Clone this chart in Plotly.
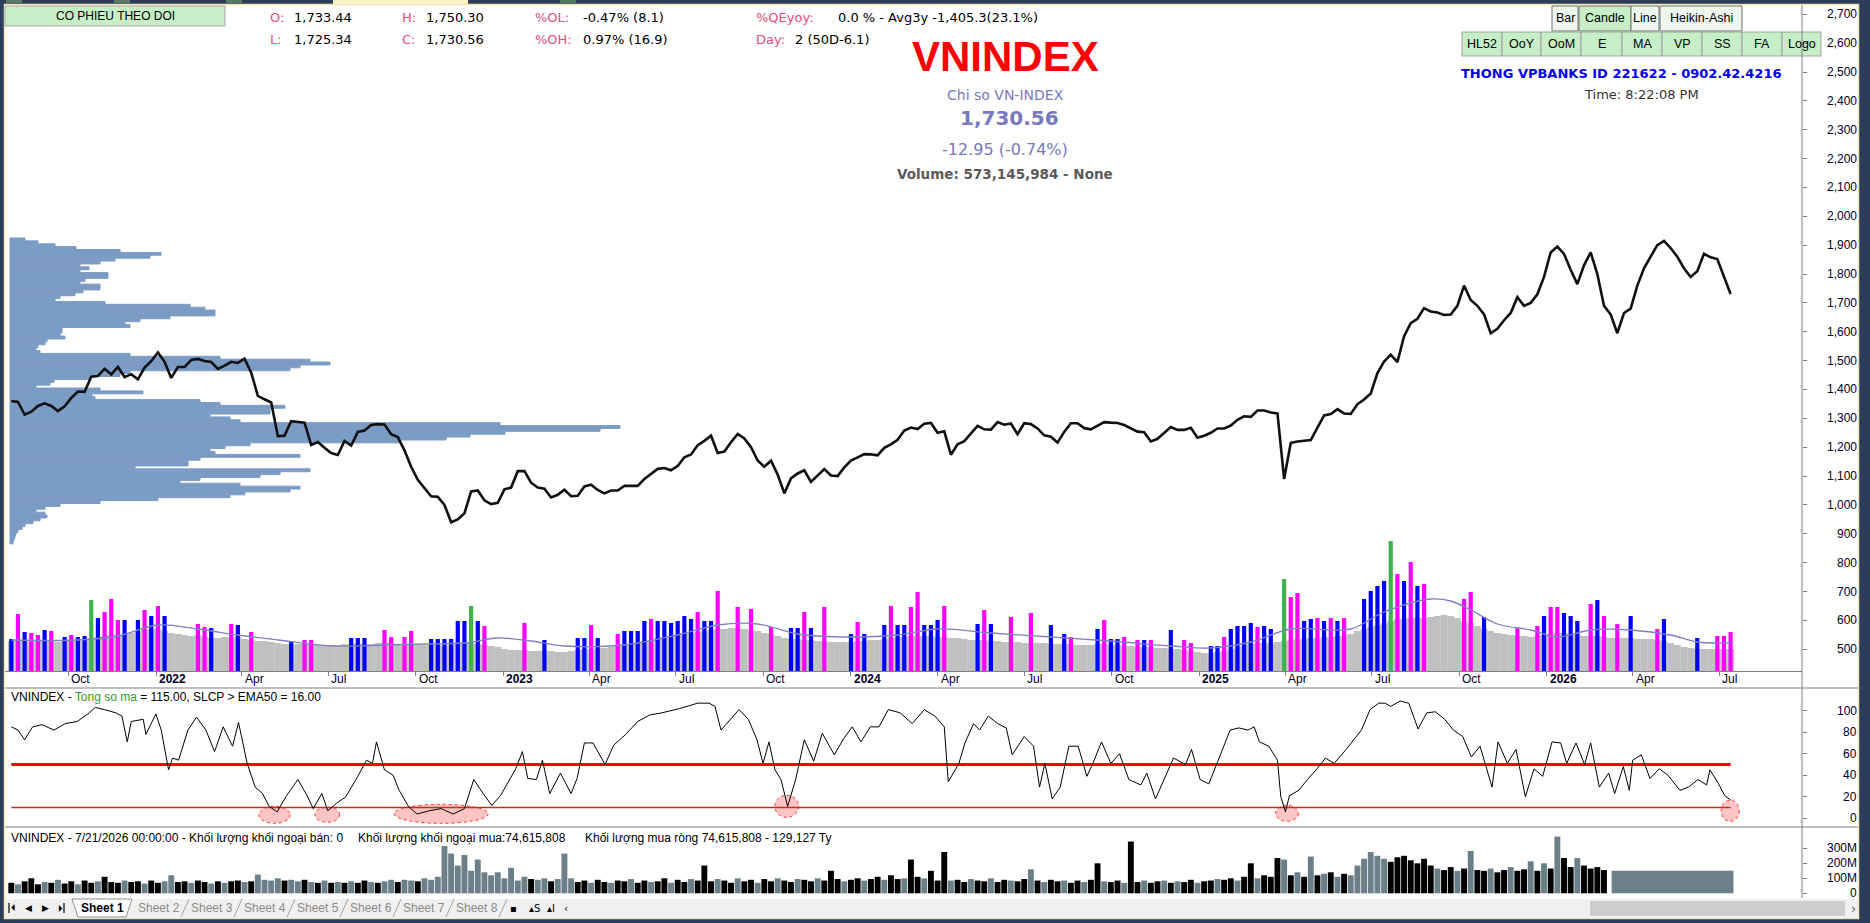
import numpy as np
import pandas as pd
import plotly.graph_objects as go

W, H = 1870, 923

# ---------------- data ----------------
week_start = "2021-08-02"   # one value per week (Monday)

close = [
    # 2021
    1360, 1357, 1313, 1323, 1343, 1352, 1343, 1325, 1342, 1371, 1393, 1392, 1444, 1447, 1472, 1452,
    1478, 1443, 1453, 1435, 1476, 1498,
    # 2022
    1528, 1496, 1440, 1478, 1478, 1502, 1506, 1499, 1495, 1471, 1483, 1496, 1492, 1507, 1458, 1378,
    1366, 1355, 1238, 1240, 1290, 1287, 1285, 1208, 1218, 1198, 1180, 1173, 1222, 1206, 1253, 1258,
    1277, 1280, 1279, 1245, 1235, 1189, 1132, 1087, 1060, 1030, 1028, 1000, 940, 950, 971, 1047,
    1050, 1016, 1003, 1007,
    # 2023
    1054, 1060, 1117, 1117, 1077, 1060, 1056, 1026, 1035, 1053, 1030, 1032, 1064, 1070, 1052, 1040,
    1050, 1050, 1066, 1067, 1066, 1090, 1109, 1125, 1128, 1120, 1135, 1165, 1175, 1207, 1222, 1240,
    1180, 1185, 1217, 1246, 1230, 1200, 1154, 1132, 1153, 1105, 1040, 1092, 1109, 1120, 1080, 1102,
    1124, 1102, 1100, 1130,
    # 2024
    1154, 1165, 1176, 1175, 1172, 1198, 1210, 1226, 1258, 1268, 1263, 1281, 1284, 1250, 1255, 1174,
    1210, 1221, 1248, 1274, 1262, 1261, 1287, 1278, 1282, 1245, 1283, 1280, 1265, 1241, 1236, 1216,
    1253, 1283, 1283, 1266, 1262, 1275, 1287, 1285, 1284, 1277, 1265, 1254, 1252, 1220, 1229, 1250,
    1270, 1260, 1260, 1267, 1233,
    # 2025
    1240, 1250, 1265, 1265, 1275, 1295, 1307, 1305, 1327, 1327, 1320, 1317, 1090, 1215, 1220, 1223,
    1225, 1268, 1310, 1315, 1332, 1317, 1315, 1349, 1365, 1386, 1457, 1497, 1521, 1495, 1585, 1630,
    1645, 1682, 1670, 1667, 1658, 1660, 1690, 1760, 1710, 1690, 1660, 1595, 1610, 1640, 1665, 1720,
    1690, 1700, 1730, 1790,
    # 2026
    1875, 1895, 1870, 1815, 1765, 1830, 1875, 1800, 1690, 1660, 1595, 1665, 1680, 1760, 1820, 1860,
    1900, 1915, 1890, 1860, 1820, 1790, 1810, 1870, 1858, 1852, 1790, 1731,
]

# weekly volume (million shares): grey base level and coloured high-volume days
vol_base = [
    600, 620, 600, 580, 620, 600, 600, 580, 600, 620, 600, 620,
    660, 680, 700, 720, 720, 740, 760, 800, 820, 840, 840, 800,
    760, 740, 720, 700, 720, 680, 660, 660, 680, 660, 680, 640,
    620, 600, 600, 580, 560, 540, 540, 540, 540, 540, 520, 520,
    520, 520, 540, 540, 560, 540, 540, 560, 560, 560, 540, 540,
    540, 520, 520, 520, 520, 500, 520, 540, 560, 560, 540, 520,
    500, 480, 440, 420, 420, 420, 400, 400, 400, 400, 380, 380,
    400, 420, 440, 440, 460, 460, 480, 500, 520, 540, 560, 600,
    620, 660, 680, 700, 720, 740, 760, 780, 800, 820, 840, 840,
    860, 860, 840, 820, 800, 760, 740, 700, 660, 640, 640, 620,
    620, 600, 600, 580, 580, 580, 580, 600, 600, 620, 620, 640,
    660, 680, 680, 700, 700, 700, 700, 680, 680, 660, 660, 640,
    620, 620, 620, 600, 600, 580, 580, 580, 560, 560, 560, 560,
    540, 540, 540, 540, 520, 520, 520, 540, 540, 520, 520, 500,
    500, 480, 480, 480, 460, 460, 440, 440, 420, 400, 380, 360,
    360, 380, 400, 440, 480, 520, 540, 560, 560, 560, 580, 600,
    620, 640, 640, 660, 660, 680, 680, 700, 700, 740, 800, 840,
    880, 920, 960, 1000, 1040, 1040, 1060, 1060, 1060, 1080, 1100, 1120,
    1100, 1060, 1000, 960, 900, 840, 800, 760, 740, 720, 700, 700,
    680, 700, 720, 740, 760, 760, 740, 720, 700, 700, 700, 680,
    660, 660, 660, 660, 640, 640, 640, 620, 600, 560, 520, 480,
    460, 440, 440, 440, 440, 440, 440,
]
vol_spike = [
    640, 1140, 780, 760, 720, 820, 800, 0, 680, 720,
    680, 700, 1420, 1060, 1180, 1440, 1020, 1020, 0, 1020,
    1220, 1100, 1300, 1100, 0, 0, 0, 0, 940, 880,
    860, 0, 0, 940, 920, 0, 780, 0, 0, 0,
    0, 0, 600, 0, 620, 620, 0, 0, 0, 0,
    0, 660, 660, 660, 0, 0, 820, 680, 0, 680,
    800, 0, 0, 640, 640, 640, 640, 1000, 1000, 1300,
    1000, 900, 0, 0, 0, 0, 0, 960, 0, 0,
    620, 0, 0, 0, 0, 660, 660, 920, 660, 0,
    0, 740, 800, 800, 800, 1000, 1040, 1000, 1000, 960,
    1000, 1100, 1040, 1180, 1000, 1000, 1600, 0, 0, 1280,
    0, 1240, 0, 0, 880, 0, 0, 860, 860, 1180,
    860, 0, 1280, 0, 0, 0, 740, 980, 740, 0,
    0, 920, 1300, 920, 920, 1280, 1580, 920, 920, 1020,
    1300, 0, 0, 0, 0, 940, 1220, 940, 0, 0,
    1080, 0, 0, 1160, 0, 0, 920, 0, 740, 680,
    0, 0, 0, 840, 1020, 640, 640, 680, 0, 620,
    620, 620, 0, 0, 820, 0, 620, 560, 0, 0,
    500, 500, 680, 840, 900, 900, 960, 880, 900, 840,
    0, 1840, 1480, 1560, 1000, 1040, 1060, 1000, 1060, 1000,
    1060, 0, 0, 1440, 1600, 1700, 1800, 2600, 1940, 1800,
    2180, 1700, 1740, 0, 0, 0, 0, 0, 1440, 1580,
    0, 1080, 0, 0, 0, 0, 860, 0, 0, 900,
    1100, 1280, 1280, 1160, 1100, 1000, 0, 1340, 1420, 1100,
    0, 940, 0, 1100, 0, 0, 0, 840, 1040, 0,
    0, 0, 0, 660, 0, 0, 700, 700, 780,
]
spike_color = ("bmbmmbm.bm" "bbGbmmmb.b" "mbmb....mm" "b..mb.m..." "..b.mm...."
               ".bbb..mm.m" "m..bbbbbbG" "bm.....m.." "b....bbmb." ".mbbbbmbbb"
               "bbbmbbm..m" ".m..m..bbm" "b.m...bmb." ".bmbbmmbbb" "m....bmb.."
               "m..m..b.bm" "...bmbbm.m" "bm..b.mm.." "bbmbbbbmbb" ".Gmmbbmbmb"
               "m..bbbbGmb" "mbm.....mm" ".b....m..m" "bmmbbb.mbm" ".m.b...mb."
               "...b..mmm")

# volume moving average: [week index, million shares]
vol_ma_points = [
    [0, 620], [10, 620], [16, 700], [22, 920], [28, 840], [34, 720], [40, 620], [48, 500],
    [56, 520], [62, 540], [68, 560], [73, 660], [78, 600], [83, 500], [92, 520], [100, 720],
    [106, 920], [112, 940], [118, 740], [126, 680], [133, 720], [139, 840], [147, 760],
    [156, 680], [165, 600], [174, 500], [180, 460], [186, 580], [192, 840], [201, 840],
    [206, 1180], [213, 1440], [216, 1400], [219, 1220], [223, 940], [228, 820], [232, 680],
    [237, 820], [243, 820], [249, 720], [253, 580], [258, 560],
]

# "Tong so ma" indicator: [week index, value]
ind_points = [
    [0, 85], [1, 82], [2, 73], [3.2, 85], [4.6, 87], [6.4, 82], [8.1, 88], [9.9, 90], [11.7, 98],
    [12.6, 103], [14, 101], [15.7, 98], [16.6, 95], [17.4, 71], [18, 90], [19.8, 92], [20.2, 78],
    [21.7, 97], [22.5, 82], [23.6, 45], [24.2, 56], [25.1, 54], [26.5, 82], [27.8, 94], [29.2, 82],
    [30.5, 62], [31.8, 85], [33.2, 67], [34.1, 89], [35.4, 51], [36.6, 29], [37.7, 23], [38.7, 11],
    [39.9, 6], [41.2, 20], [43, 36], [44.4, 21], [45.3, 9], [46.6, 23], [47.5, 7], [48.8, 14],
    [50.2, 20], [52, 39], [53.3, 54], [54.2, 51], [54.8, 71], [56, 45], [57.3, 40], [58.2, 26],
    [59.6, 11], [60.9, 4], [62.7, 7], [64.5, 9], [66.3, 4], [68, 9], [69.4, 36], [70.8, 23],
    [72.1, 12], [73.4, 21], [74.8, 36], [75.7, 46], [76.7, 62], [77.5, 37], [78.8, 36], [79.7, 54],
    [80.8, 23], [82.4, 42], [84, 23], [84.9, 37], [86, 70], [87.3, 70], [89.1, 50], [90.4, 68],
    [92.2, 78], [94, 90], [95.8, 96], [97.6, 98], [100.3, 102], [103, 107], [104.7, 107],
    [105.6, 104], [106.5, 82], [107.9, 92], [109.2, 101], [110.6, 92], [111.9, 73], [112.8, 51],
    [113.7, 71], [114.6, 45], [115.5, 36], [116.5, 11], [117.7, 36], [119, 73], [120.4, 53],
    [121.7, 79], [123.5, 59], [124.9, 74], [126.2, 85], [127.5, 71], [128.9, 85], [130.2, 85],
    [131.6, 101], [133.4, 98], [135.2, 88], [137, 101], [138.6, 95], [140, 85], [140.6, 34],
    [142.2, 51], [143.1, 70], [144.4, 88], [145.3, 82], [146.6, 95], [148, 88], [149.3, 84],
    [150.2, 59], [152, 76], [153.4, 67], [154.3, 29], [155.1, 51], [156.2, 18], [157.4, 29],
    [158.7, 67], [160.1, 67], [161.4, 39], [162.3, 51], [163.6, 71], [165, 51], [166.3, 60],
    [167.7, 36], [169.5, 31], [170.4, 42], [171.7, 18], [173, 36], [174.4, 56], [176.2, 50],
    [177.1, 64], [178.4, 36], [179.7, 32], [181.5, 60], [182.9, 82], [184.2, 84], [185.6, 82],
    [186.5, 85], [187.3, 71], [188.7, 67], [190, 54], [190.5, 20], [191.2, 6], [191.8, 21],
    [193.2, 26], [194.5, 36], [195.8, 45], [197.2, 56], [198.5, 51], [200.3, 64], [201.2, 71],
    [202.6, 82], [203.9, 101], [205.2, 107], [206.1, 107], [207, 104], [208.4, 109], [209.7, 107],
    [211.1, 83], [212.4, 98], [213.7, 99], [215.1, 92], [216.4, 82], [217.8, 76], [219.1, 57],
    [220.4, 67], [222.2, 29], [223.1, 71], [224.5, 51], [225.8, 64], [227.2, 20], [228.5, 46],
    [229.8, 39], [231.2, 71], [232.5, 70], [233.4, 51], [234.8, 70], [236.1, 50], [237, 70],
    [238.3, 29], [239.7, 42], [240.6, 23], [241.9, 48], [242.8, 26], [243.3, 54], [244.6, 59],
    [245.9, 37], [247.3, 46], [248.6, 40], [250.4, 26], [251.7, 29], [253.1, 36], [254.4, 31],
    [254.9, 45], [256.2, 32], [257.1, 21], [258, 17],
]
ind_levels = [50, 10]
# oversold zones circled on the indicator: start, end, low, high
low_zones = [
    ["2022-04-19", "2022-05-22", -4.7, 11.2],
    ["2022-06-17", "2022-07-13", -3.7, 10.3],
    ["2022-09-08", "2022-12-16", -4.7, 13.0],
    ["2023-10-13", "2023-11-07", 0.9, 21.4],
    ["2025-03-22", "2025-04-15", -2.8, 12.1],
    ["2026-07-03", "2026-07-22", -2.8, 16.8],
]

# foreign trading volume (million shares), weekly
foreign = [
    70, 60, 80, 100, 60, 75, 70, 90, 65, 80,
    60, 85, 70, 80, 110, 75, 70, 85, 75, 80,
    65, 85, 70, 80, 120, 75, 80, 70, 85, 75,
    65, 80, 70, 80, 85, 75, 80, 125, 90, 85,
    100, 85, 90, 80, 90, 75, 70, 85, 70, 75,
    70, 80, 70, 85, 75, 70, 80, 90, 75, 90,
    85, 80, 100, 90, 110, 315, 265, 185, 255, 150,
    225, 140, 120, 140, 100, 170, 85, 110, 95, 90,
    100, 80, 95, 265, 100, 75, 85, 70, 90, 75,
    70, 85, 80, 95, 70, 85, 75, 80, 100, 70,
    90, 75, 95, 85, 185, 80, 95, 85, 70, 100,
    80, 90, 70, 95, 80, 100, 85, 75, 95, 90,
    80, 100, 85, 150, 95, 80, 90, 100, 85, 95,
    110, 90, 120, 95, 100, 225, 110, 100, 150, 85,
    275, 85, 90, 75, 95, 85, 80, 100, 75, 90,
    85, 80, 95, 160, 85, 75, 90, 80, 85, 70,
    85, 75, 90, 200, 80, 75, 85, 70, 345, 75,
    85, 70, 80, 85, 70, 80, 75, 90, 70, 80,
    85, 95, 90, 100, 85, 110, 200, 100, 120, 110,
    235, 225, 120, 140, 110, 245, 120, 130, 140, 110,
    130, 120, 185, 230, 275, 250, 230, 210, 240, 250,
    220, 200, 230, 185, 165, 155, 175, 150, 165, 282,
    155, 150, 165, 140, 155, 175, 150, 160, 213, 150,
    200, 165, 378, 235, 175, 235, 185, 165, 175, 155,
]
foreign_color = ("kskkkskskk" "skkskkkskk" "skksskkskk" "skskksksss" "skssksksks"
                 "kskkskssks" "skssssssss" "ssssssssks" "skssskkskk" "skkskkskks"
                 "kkskkkskks" "kkskkskksk" "kskkkskksk" "kskkskkskk" "kskkskkskk"
                 "skkskskksk" "kskkskkskk" "skkskskksk" "kskkskkskk" "ksksksksks"
                 "ksssssskkk" "kkkkskksks" "kkskkskksk" "skskkskkkk")
foreign_block = ["2026-03-10", "2026-07-16", 150]

# volume profile (left side): price bins and relative traded volume
profile_price = list(range(1920, 860, -10))
profile_vol = [
    15, 28, 45, 66, 110, 151, 140, 105, 90, 70,
    79, 70, 98, 98, 75, 70, 90, 90, 73, 65,
    50, 45, 95, 180, 195, 205, 205, 160, 130, 115,
    120, 52, 52, 50, 55, 37, 35, 28, 26, 30,
    120, 210, 300, 320, 290, 280, 120, 110, 80, 44,
    40, 26, 90, 133, 82, 85, 190, 210, 275, 260,
    260, 200, 220, 230, 490, 610, 590, 495, 460, 436,
    390, 240, 215, 200, 205, 290, 190, 178, 178, 125,
    300, 270, 250, 190, 170, 230, 290, 280, 235, 220,
    148, 90, 50, 35, 26, 35, 37, 30, 23, 15,
    12, 8, 6, 5, 4, 3,
]

price_ticks = list(range(500, 2800, 100))
ind_ticks = [0, 20, 40, 60, 80, 100]
foreign_ticks = [0, 100, 200, 300]
foreign_tick_text = ["0", "100M", "200M", "300M"]

# ---------------- helpers ----------------
def PX(x):
    return x / W

def PY(y):
    return 1 - y / H

shapes, anns = [], []

def text(t, x, y, size=13, color="#000000", family="DejaVu Sans", anchor="left", bold=False):
    if bold:
        t = "<b>" + t + "</b>"
    anns.append(dict(text=t, x=PX(x), y=PY(y), xref="paper", yref="paper", xanchor=anchor,
                     yanchor="middle", showarrow=False,
                     font=dict(size=size, color=color, family=family)))

def rect(x0, y0, x1, y1, fill, line=None, lw=1.0, layer="below"):
    shapes.append(dict(type="rect", xref="paper", yref="paper", x0=PX(x0), x1=PX(x1),
                       y0=PY(y1), y1=PY(y0), fillcolor=fill, layer=layer,
                       line=dict(color=line if line else fill, width=lw if line else 0)))

def hline(x0, x1, y, color="#808080", w=1.0):
    shapes.append(dict(type="line", xref="paper", yref="paper", x0=PX(x0), x1=PX(x1),
                       y0=PY(y), y1=PY(y), line=dict(color=color, width=w), layer="above"))

def vline(x, y0, y1, color="#808080", w=1.0):
    shapes.append(dict(type="line", xref="paper", yref="paper", x0=PX(x), x1=PX(x),
                       y0=PY(y0), y1=PY(y1), line=dict(color=color, width=w), layer="above"))

# ---------------- geometry ----------------
t0 = pd.Timestamp(week_start)
dates = pd.date_range(week_start, periods=len(close), freq="7D")
DAY_MS = 86400000
px_per_day = 0.952
anchor_date = pd.Timestamp("2022-01-01")
anchor_px = 156.0
x_left_px, x_right_px = 5.0, 1802.0
date_left = anchor_date + pd.Timedelta(days=(x_left_px - anchor_px) / px_per_day)
date_right = anchor_date + pd.Timedelta(days=(x_right_px - anchor_px) / px_per_day)
xdom = [PX(x_left_px), PX(x_right_px)]

# price panel: 2700 at y=14.3 px, 28.86 px per 100
p_top_px, p_bot_px = 5.0, 671.0
def price_at(ypx):
    return 2700 - (ypx - 14.3) / 0.2886
price_range = [price_at(p_bot_px), price_at(p_top_px)]
vol_px = 20.0  # million shares per pixel
vol_range = [0, (p_bot_px - p_top_px) * vol_px]

# indicator panel: 100 at 710.7, 0 at 818.3
i_top_px, i_bot_px = 688.0, 827.0
ipp = (818.3 - 710.7) / 100
ind_range = [-(i_bot_px - 818.3) / ipp, (818.3 - i_top_px) / ipp]

# foreign panel: 0 at 893.3, 15 px per 100M
f_top_px, f_bot_px = 827.0, 898.0
fpp = 0.15
f_range = [-(f_bot_px - 893.3) / fpp, (893.3 - f_top_px) / fpp]

# ---------------- traces ----------------
fig = go.Figure()

# volume profile
PROF = "#7b9cc4"
fig.add_trace(go.Bar(x=profile_vol, y=profile_price, orientation="h", width=10,
                     marker=dict(color=PROF, line=dict(color=PROF, width=1)),
                     xaxis="x", yaxis="y", hoverinfo="skip"))

# volume bars
n = min(len(dates), len(vol_base))
fig.add_trace(go.Bar(x=dates[:n], y=vol_base[:n], width=7.2 * DAY_MS,
                     marker=dict(color="#c0c0c0", line=dict(width=0)),
                     xaxis="x2", yaxis="y3", hoverinfo="skip"))
cmap = {"b": "#0000ff", "m": "#ff00ff", "G": "#3cb44b"}
sx, sy, sc = [], [], []
for i in range(min(len(dates), len(vol_spike), len(spike_color))):
    if vol_spike[i] > 0 and spike_color[i] in cmap:
        sx.append(dates[i]); sy.append(vol_spike[i]); sc.append(cmap[spike_color[i]])
fig.add_trace(go.Bar(x=sx, y=sy, width=4.4 * DAY_MS,
                     marker=dict(color=sc, line=dict(width=0)),
                     xaxis="x2", yaxis="y3", hoverinfo="skip"))
ma_x = [t0 + pd.Timedelta(days=7 * w) for w, _ in vol_ma_points]
ma_y = [v for _, v in vol_ma_points]
fig.add_trace(go.Scatter(x=ma_x, y=ma_y, mode="lines",
                         line=dict(color="#7f7fc4", width=1.3, shape="spline"),
                         xaxis="x2", yaxis="y3", hoverinfo="skip"))

# price
fig.add_trace(go.Scatter(x=dates, y=close, mode="lines",
                         line=dict(color="#111111", width=2.6),
                         xaxis="x2", yaxis="y", hoverinfo="skip"))

# indicator
ind_x = [t0 + pd.Timedelta(days=7 * w) for w, _ in ind_points]
ind_y = [v for _, v in ind_points]
fig.add_trace(go.Scatter(x=[dates[0], dates[-1]], y=[ind_levels[0]] * 2, mode="lines",
                         line=dict(color="#ff0000", width=3.2), xaxis="x3", yaxis="y2",
                         hoverinfo="skip"))
fig.add_trace(go.Scatter(x=[dates[0], dates[-1]], y=[ind_levels[1]] * 2, mode="lines",
                         line=dict(color="#c0301c", width=1.5), xaxis="x3", yaxis="y2",
                         hoverinfo="skip"))
fig.add_trace(go.Scatter(x=ind_x, y=ind_y, mode="lines", line=dict(color="#000000", width=1),
                         xaxis="x3", yaxis="y2", hoverinfo="skip"))

# foreign volume
fmap = {"k": "#000000", "s": "#6b7f88"}
nf = min(len(foreign), len(foreign_color), len(dates))
fig.add_trace(go.Bar(x=dates[:nf], y=foreign[:nf], width=6.2 * DAY_MS,
                     marker=dict(color=[fmap[c] for c in foreign_color[:nf]], line=dict(width=0)),
                     xaxis="x4", yaxis="y4", hoverinfo="skip"))
fb0, fb1 = pd.Timestamp(foreign_block[0]), pd.Timestamp(foreign_block[1])
fig.add_trace(go.Bar(x=[fb0 + (fb1 - fb0) / 2], y=[foreign_block[2]],
                     width=[(fb1 - fb0).total_seconds() * 1000],
                     marker=dict(color="#6b7f88", line=dict(width=0)),
                     xaxis="x4", yaxis="y4", hoverinfo="skip"))

# ---------------- background & frame ----------------
rect(4.5, 4.5, 1858.5, 918.5, "#ffffff", line="#f2e4b0", lw=1.5)
rect(333, 0, 468, 4, "#fbefc4")
for a, b in [(6, 22), (114, 130), (226, 242), (560, 576)]:
    rect(a, 0, b, 3, "#557a66")

# oversold zones
for z0, z1, lo, hi in low_zones:
    shapes.append(dict(type="circle", xref="x3", yref="y2", x0=z0, x1=z1, y0=lo, y1=hi,
                       fillcolor="rgba(255,150,150,0.55)", layer="below",
                       line=dict(color="#ff3030", width=1, dash="dot")))

# panel separators & axis line
hline(5, 1858, 688)
hline(5, 1858, 827)
vline(1802, 5, 898)

# ---------------- axis labels ----------------
lab_font = dict(size=12, color="#000028", family="Liberation Sans, Arial")
for v in price_ticks:
    anns.append(dict(text=f"{v:,}", x=PX(1859), y=v, xref="paper", yref="y", xanchor="right",
                     yanchor="middle", showarrow=False, font=lab_font))
for v in ind_ticks:
    anns.append(dict(text=str(v), x=PX(1859), y=v, xref="paper", yref="y2", xanchor="right",
                     yanchor="middle", showarrow=False, font=lab_font))
for v, t in zip(foreign_ticks, foreign_tick_text):
    anns.append(dict(text=t, x=PX(1859), y=v, xref="paper", yref="y4", xanchor="right",
                     yanchor="middle", showarrow=False, font=lab_font))

qdates = pd.date_range("2021-10-01", "2026-07-01", freq="QS")
for d in qdates:
    lbl = f"<b>{d.year}</b>" if d.month == 1 else d.strftime("%b")
    anns.append(dict(text=lbl, x=d, y=PY(679), xref="x2", yref="paper", xanchor="left",
                     yanchor="middle", xshift=1, showarrow=False, font=lab_font))

# ---------------- header texts ----------------
rect(5, 6, 225, 26, "#c6efc6", line="#a8a8a8")
text("CO PHIEU THEO DOI", 115, 16, size=12, family="Liberation Sans, Arial", anchor="center")

LAB = "#e0507c"
rows = [
    (17, [("O:", 268, LAB), ("1,733.44", 292, "#000"), ("H:", 400, LAB), ("1,750.30", 424, "#000"),
          ("%OL:", 533, LAB), ("-0.47% (8.1)", 581, "#000"), ("%QEyoy:", 754, LAB),
          ("0.0 % - Avg3y -1,405.3(23.1%)", 836, "#000")]),
    (40, [("L:", 268, LAB), ("1,725.34", 292, "#000"), ("C:", 400, LAB), ("1,730.56", 424, "#000"),
          ("%OH:", 533, LAB), ("0.97% (16.9)", 581, "#000"), ("Day:", 754, LAB),
          ("2 (50D-6.1)", 793, "#000")]),
]
for yy, items in rows:
    for t, xx, col in items:
        text(t, xx, yy, size=13, color=col)

text("VNINDEX", 1005, 57, size=42, color="#ff0000", family="Liberation Sans, Arial",
     anchor="center", bold=True)
text("Chi so VN-INDEX", 1005, 95, size=14, color="#7878be", anchor="center")
text("1,730.56", 1009, 118, size=20, color="#7878be", anchor="center", bold=True)
text("-12.95 (-0.74%)", 1005, 150, size=16, color="#7878be", anchor="center")
text("Volume: 573,145,984 - None", 1005, 174, size=13.5, color="#5a5a5a", anchor="center",
     bold=True)

# buttons
btn_font = "Liberation Sans, Arial"
for t, a, b, fill in [("Bar", 1552, 1578, "#eef7ee"), ("Candle", 1579, 1631, "#c6efc6"),
                      ("Line", 1631, 1659, "#eef7ee"), ("Heikin-Ashi", 1660, 1742, "#eef7ee")]:
    rect(a, 6, b, 31, fill, line="#707070")
    text(t, (a + b) / 2, 18.5, size=12.5, family=btn_font, anchor="center")
for t, a, b in [("HL52", 1462, 1502), ("OoY", 1502, 1541), ("OoM", 1541, 1581), ("E", 1581, 1622),
                ("MA", 1622, 1662), ("VP", 1662, 1702), ("SS", 1702, 1742), ("FA", 1742, 1782),
                ("Logo", 1782, 1821)]:
    rect(a, 32, b, 56, "#c6efc6", line="#a0a0a0")
    text(t, (a + b) / 2, 44, size=12.5, family=btn_font, anchor="center")

text("THONG VPBANKS ID 221622 - 0902.42.4216", 1621, 74, size=13, color="#0000ee",
     anchor="center", bold=True)
text("Time: 8:22:08 PM", 1641, 94, size=13, color="#333333", anchor="center")

# panel titles
ttl_font = "Liberation Sans, Arial"
text("VNINDEX - <span style='color:#2e9e2e'>Tong so ma</span> = 115.00, SLCP &gt; EMA50 = 16.00",
     9, 697, size=12, family=ttl_font)
text("VNINDEX - 7/21/2026 00:00:00 - Khối lượng khối ngoại bán: 0", 9, 838, size=12, family=ttl_font)
text("Khối lượng khối ngoại mua:74,615,808", 356, 838, size=12, family=ttl_font)
text("Khối lượng mua ròng 74,615,808 - 129,127 Ty", 583, 838, size=12, family=ttl_font)

# ---------------- bottom sheet bar ----------------
rect(5, 899, 1858, 918, "#f0f0f0")
for xx, g in [(13, "⏴"), (28, "◀"), (45, "▶"), (60, "⏵")]:
    text(g, xx, 908, size=9, color="#000", anchor="center")
vline(9, 903, 913, color="#000", w=1.2)
vline(64, 903, 913, color="#000", w=1.2)
tabs = [("Sheet 1", 72, 132), ("Sheet 2", 132, 185), ("Sheet 3", 185, 238), ("Sheet 4", 238, 291),
        ("Sheet 5", 291, 344), ("Sheet 6", 344, 397), ("Sheet 7", 397, 450), ("Sheet 8", 450, 503)]
for k, (t, a, b) in enumerate(tabs):
    if k == 0:
        shapes.append(dict(type="path", xref="paper", yref="paper", layer="below",
                           path=f"M {PX(a)},{PY(899)} L {PX(a+6)},{PY(917)} L {PX(b-6)},{PY(917)} L {PX(b)},{PY(899)} Z",
                           fillcolor="#ffffff", line=dict(color="#909090", width=1)))
        text(t, (a + b) / 2, 908, size=12, family="Liberation Sans, Arial", anchor="center",
             bold=True)
    else:
        shapes.append(dict(type="line", xref="paper", yref="paper", x0=PX(b - 4), x1=PX(b + 4),
                           y0=PY(917), y1=PY(899), line=dict(color="#a0a0a0", width=1)))
        text(t, (a + b) / 2, 908, size=12, color="#8a8a8a", family="Liberation Sans, Arial",
             anchor="center")
for xx, g in [(513, "▪"), (534, "▴S"), (551, "▴I"), (566, "‹")]:
    text(g, xx, 908, size=10, color="#000", anchor="center")
rect(1590, 901, 1845, 916, "#cdcdcd")
text("›", 1853, 908, size=13, color="#555", anchor="center")

# ---------------- layout ----------------
common_date = dict(type="date", range=[date_left, date_right], showgrid=False, zeroline=False)
fig.update_layout(
    width=W, height=H, margin=dict(l=0, r=0, t=0, b=0),
    paper_bgcolor="#2c3d5c", plot_bgcolor="rgba(0,0,0,0)",
    showlegend=False, barmode="overlay",
    xaxis=dict(domain=xdom, range=[x_left_px - 10, x_right_px - 10], visible=False,
               anchor="y", fixedrange=True),
    xaxis2=dict(overlaying="x", anchor="y", side="bottom", showline=True, linecolor="#808080",
                linewidth=1, ticks="outside", ticklen=4, tickcolor="#808080",
                tickvals=list(qdates), showticklabels=False, **common_date),
    xaxis3=dict(domain=xdom, anchor="y2", visible=False, **common_date),
    xaxis4=dict(domain=xdom, anchor="y4", visible=False, **common_date),
    yaxis=dict(domain=[PY(p_bot_px), PY(p_top_px)], range=price_range, side="right",
               anchor="x", showline=False, ticks="outside", ticklen=4, tickcolor="#808080",
               tickvals=price_ticks, showticklabels=False, showgrid=False, zeroline=False),
    yaxis3=dict(overlaying="y", range=vol_range, visible=False),
    yaxis2=dict(domain=[PY(i_bot_px), PY(i_top_px)], range=ind_range, side="right",
                anchor="x3", ticks="outside", ticklen=4, tickcolor="#808080",
                tickvals=ind_ticks, showticklabels=False, showgrid=False, zeroline=False),
    yaxis4=dict(domain=[PY(f_bot_px), PY(f_top_px)], range=f_range, side="right",
                anchor="x4", ticks="outside", ticklen=4, tickcolor="#808080",
                tickvals=foreign_ticks, showticklabels=False, showgrid=False, zeroline=False),
    shapes=shapes, annotations=anns,
)

fig.write_html("out.html", config={"displayModeBar": False})
